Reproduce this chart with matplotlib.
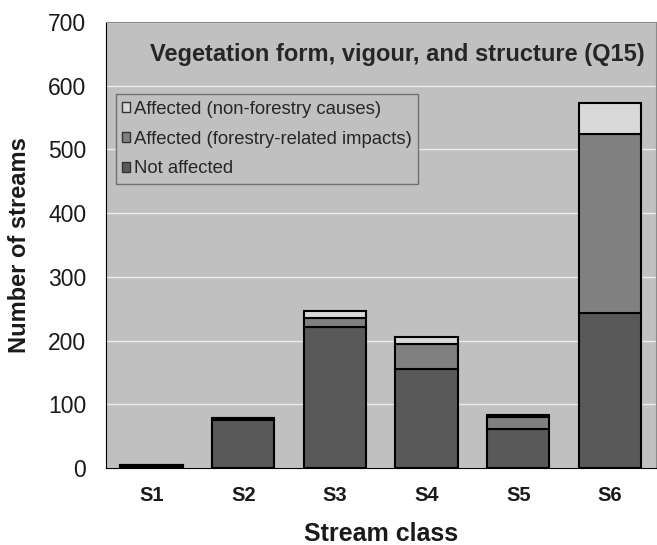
import numpy as np
from matplotlib import pyplot as plt
from matplotlib.patches import Patch

classes = ['S1', 'S2', 'S3', 'S4', 'S5', 'S6']
not_affected = [4, 75, 221, 155, 62, 243]
forestry = [1, 3, 14, 39, 18, 281]
non_forestry = [0, 1, 11, 12, 4, 49]

plt.rcParams['font.family'] = ['Liberation Sans', 'DejaVu Sans']

bg = '#c0c0c0'
c_dark = '#595959'
c_mid = '#808080'
c_light = '#d9d9d9'

fig = plt.figure(figsize=(6.57, 5.45), dpi=100)
ax = fig.add_axes([0.161, 0.141, 0.837, 0.819])
ax.set_facecolor(bg)

x = np.arange(len(classes))
w = 0.68
nf_bottom = np.array(not_affected) + np.array(forestry)
ax.bar(x, not_affected, w, color=c_dark, edgecolor='black', linewidth=1.5, zorder=3)
ax.bar(x, forestry, w, bottom=not_affected, color=c_mid, edgecolor='black', linewidth=1.5, zorder=3)
ax.bar(x, non_forestry, w, bottom=nf_bottom, color=c_light, edgecolor='black', linewidth=1.5, zorder=3)

ax.set_xlim(-0.5, len(classes) - 0.5)
ax.set_ylim(0, 700)
ax.set_yticks(range(0, 701, 100))
ax.set_xticks(x)
ax.set_xticklabels(classes, fontweight='bold', fontsize=14.5)
ax.tick_params(axis='y', length=0, labelsize=16.5, pad=14)
ax.tick_params(axis='x', length=0, pad=13)
for t in ax.get_yticklabels() + ax.get_xticklabels():
    t.set_color('#1a1a1a')
ax.yaxis.grid(True, color='#ececec', linewidth=1, zorder=0)
ax.set_axisbelow(True)

for s in ['top', 'right']:
    ax.spines[s].set_color('#8c8c8c')
ax.spines['left'].set_color('black')
ax.spines['bottom'].set_color('black')

ax.set_xlabel('Stream class', fontweight='bold', fontsize=18, labelpad=12, color='#1a1a1a')
ax.set_ylabel('Number of streams', fontweight='bold', fontsize=17, labelpad=12, color='#1a1a1a')

ax.text(0.53, 0.926, 'Vegetation form, vigour, and structure (Q15)', transform=ax.transAxes,
        ha='center', va='center', fontsize=17, fontweight='bold', color='#262626')

handles = [Patch(facecolor=c_light, edgecolor='#333333', label='Affected (non-forestry causes)'),
           Patch(facecolor=c_mid, edgecolor='#333333', label='Affected (forestry-related impacts)'),
           Patch(facecolor=c_dark, edgecolor='#333333', label='Not affected')]
leg = ax.legend(handles=handles, loc='upper left', bbox_to_anchor=(0.018, 0.838),
                fontsize=13.3, frameon=True, fancybox=False, handlelength=0.45, handleheight=0.45,
                handletextpad=0.2, borderpad=0.35, labelspacing=0.7, borderaxespad=0)
leg.get_frame().set_facecolor(bg)
leg.get_frame().set_edgecolor('#707070')
leg.get_frame().set_linewidth(1)
leg.get_frame().set_alpha(1)
for t in leg.get_texts():
    t.set_color('#262626')

fig.savefig('out.png', dpi=100)
